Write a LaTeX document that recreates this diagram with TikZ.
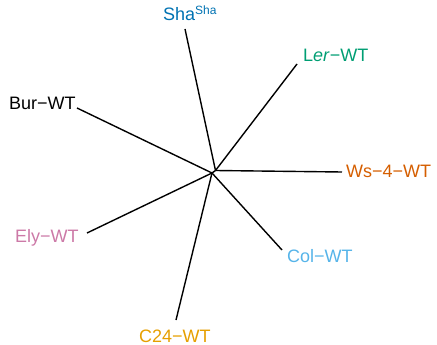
\documentclass[tikz,border=0pt]{standalone}
\usepackage{fontspec}
\setmainfont{Liberation Sans}
\definecolor{cSha}{RGB}{0,114,178}
\definecolor{cLer}{RGB}{0,158,115}
\definecolor{cWs}{RGB}{213,94,0}
\definecolor{cEly}{RGB}{204,121,167}
\definecolor{cCol}{RGB}{86,180,233}
\definecolor{cC}{RGB}{230,159,0}
\tikzset{
  lab/.style={anchor=base west,inner sep=0pt,font=\fontsize{18}{20}\selectfont},
  branch/.style={line width=1.4pt,black}
}
\begin{document}
\begin{tikzpicture}[x=1pt,y=-1pt]
\useasboundingbox (0,0) rectangle (437,345);
% internal nodes
\coordinate (A) at (215.5,170.5);
\coordinate (B) at (212,173);
% tips
\coordinate (tSha) at (185,29);
\coordinate (tLer) at (297,64);
\coordinate (tWs) at (342,172);
\coordinate (tBur) at (77,108);
\coordinate (tEly) at (87,233);
\coordinate (tCol) at (282,250);
\coordinate (tC24) at (176,320);
% labels
\node[lab,text=cSha] (Sha) at (163,21) {Sha\textsuperscript{\fontsize{12}{12}\selectfont Sha}};
\node[lab,text=cLer] (Ler) at (303,62) {L\textit{er}−WT};
\node[lab,text=black] (Bur) at (9,110) {Bur−WT};
\node[lab,text=cWs] (Ws) at (346,177) {Ws−4−WT};
\node[lab,text=cEly] (Ely) at (15,242) {Ely−WT};
\node[lab,text=cCol] (Col) at (287,262) {Col−WT};
\node[lab,text=cC] (C24) at (139,342) {C24−WT};
% branches
\draw[branch] (A) -- (B);
\draw[branch] (A) -- (tSha);
\draw[branch] (A) -- (tLer);
\draw[branch] (A) -- (tWs);
\draw[branch] (B) -- (tBur);
\draw[branch] (B) -- (tEly);
\draw[branch] (B) -- (tCol);
\draw[branch] (B) -- (tC24);
\end{tikzpicture}
\end{document}
